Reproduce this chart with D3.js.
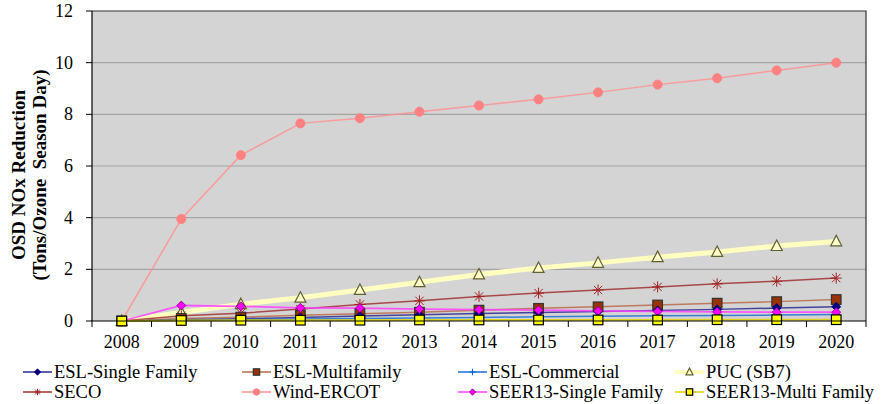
<!DOCTYPE html>
<html><head><meta charset="utf-8">
<script src="https://cdn.jsdelivr.net/npm/d3@7"></script>
</head><body style="margin:0"><svg id="c" width="881" height="404"></svg>
<script>
const FONT = "Liberation Serif";
const years = ["2008","2009","2010","2011","2012","2013","2014","2015","2016","2017","2018","2019","2020"];
const yTicks = [0,2,4,6,8,10,12];
const eslSingle   = [0,0.05,0.09,0.14,0.19,0.24,0.29,0.33,0.37,0.41,0.45,0.5,0.55];
const eslMulti    = [0,0.1,0.15,0.22,0.28,0.34,0.42,0.49,0.55,0.62,0.69,0.75,0.83];
const eslComm     = [0,0.03,0.05,0.08,0.1,0.12,0.14,0.16,0.18,0.2,0.21,0.23,0.25];
const puc         = [0,0.33,0.65,0.9,1.2,1.5,1.8,2.05,2.25,2.47,2.67,2.9,3.08];
const seco        = [0,0.2,0.3,0.46,0.64,0.78,0.95,1.08,1.2,1.32,1.44,1.54,1.66];
const wind        = [0,3.95,6.42,7.65,7.85,8.1,8.34,8.58,8.85,9.15,9.4,9.7,10.0];
const seerSingle  = [0,0.6,0.57,0.51,0.5,0.46,0.44,0.42,0.39,0.37,0.35,0.34,0.34];
const seerMulti   = [0,0.02,0.03,0.03,0.03,0.04,0.04,0.04,0.04,0.04,0.05,0.05,0.05];

const series = [
  {name:"ESL-Single Family", v:eslSingle, color:"#2a2a90", lw:1.5, m:"diamond", mf:"#000080", ms:"#000080"},
  {name:"ESL-Multifamily", v:eslMulti, color:"#b86a48", lw:1.5, m:"square", mf:"#993300", ms:"#333"},
  {name:"ESL-Commercial", v:eslComm, color:"#1a70d0", lw:1.5, m:"plus", mf:"none", ms:"#0066cc"},
  {name:"PUC (SB7)", v:puc, color:"#ffffc0", lw:5, m:"triangle", mf:"#ffffcc", ms:"#606030"},
  {name:"SECO", v:seco, color:"#a03030", lw:1.5, m:"star", mf:"none", ms:"#a02020"},
  {name:"Wind-ERCOT", v:wind, color:"#ff9090", lw:1.5, m:"circle", mf:"#ff8080", ms:"#ff8080"},
  {name:"SEER13-Single Family", v:seerSingle, color:"#ff40ff", lw:1.8, m:"diamond", mf:"#ff00ff", ms:"#800080"},
  {name:"SEER13-Multi Family", v:seerMulti, color:"#e0d000", lw:1.8, m:"square", mf:"#ffff00", ms:"#000"}
];
const drawOrder = [3,5,4,1,0,2,6,7];

const svg = d3.select("#c");
const L=92, R=866, T=11, B=321;
const x = d3.scaleBand().domain(years).range([L,R]);
const cx = d => x(d)+x.bandwidth()/2;
const y = d3.scaleLinear().domain([0,12]).range([B,T]);

svg.append("rect").attr("x",L).attr("y",T).attr("width",R-L).attr("height",B-T).attr("fill","#d4d4d4");
svg.append("g").selectAll("line").data(yTicks.filter(t=>t>0&&t<12)).join("line")
  .attr("x1",L).attr("x2",R).attr("y1",d=>y(d)).attr("y2",d=>y(d)).attr("stroke","#a4a4a4").attr("stroke-width",1.2);
svg.append("path").attr("d",`M${L},${T}H${R}V${B}`).attr("fill","none").attr("stroke","#333").attr("stroke-width",1.2);

function marker(g, type, sz, fill, stroke){
  const s=sz;
  if(type==="diamond") g.append("path").attr("d",`M0,${-s}L${s},0L0,${s}L${-s},0Z`).attr("fill",fill).attr("stroke",stroke).attr("stroke-width",0.8);
  else if(type==="square") g.append("rect").attr("x",-s).attr("y",-s).attr("width",2*s).attr("height",2*s).attr("fill",fill).attr("stroke",stroke).attr("stroke-width",1.2);
  else if(type==="triangle") g.append("path").attr("d",`M0,${-s*1.1}L${s},${s*0.8}L${-s},${s*0.8}Z`).attr("fill",fill).attr("stroke",stroke).attr("stroke-width",1.2);
  else if(type==="circle") g.append("circle").attr("r",s).attr("fill",fill).attr("stroke",stroke);
  else if(type==="plus") g.append("path").attr("d",`M${-s},0H${s}M0,${-s}V${s}`).attr("stroke",stroke).attr("stroke-width",1.2).attr("fill","none");
  else if(type==="star") g.append("path").attr("d",`M${-s},0H${s}M0,${-s}V${s}M${-s*0.75},${-s*0.75}L${s*0.75},${s*0.75}M${-s*0.75},${s*0.75}L${s*0.75},${-s*0.75}`).attr("stroke",stroke).attr("stroke-width",1).attr("fill","none");
}
const msize = {diamond:4.5, square:4.8, triangle:5.5, circle:4.5, plus:4.5, star:5.5};

const line = d3.line().x((d,i)=>cx(years[i])).y(d=>y(d));
drawOrder.forEach(k=>{
  const s=series[k];
  svg.append("path").datum(s.v).attr("d",line).attr("fill","none").attr("stroke",s.color).attr("stroke-width",s.lw).attr("stroke-opacity",s.m==="triangle"?1:0.85);
});
drawOrder.forEach(k=>{
  const s=series[k];
  s.v.forEach((v,i)=>{
    const g=svg.append("g").attr("transform",`translate(${cx(years[i])},${y(v)})`);
    marker(g,s.m,msize[s.m],s.mf,s.ms);
  });
});

// axes
svg.append("line").attr("x1",L).attr("x2",L).attr("y1",T).attr("y2",B).attr("stroke","#000").attr("stroke-width",1.2);
svg.append("line").attr("x1",L-1).attr("x2",R).attr("y1",B).attr("y2",B).attr("stroke","#000").attr("stroke-width",1.2);
svg.append("g").selectAll("line").data(yTicks).join("line")
  .attr("x1",L-6).attr("x2",L).attr("y1",d=>y(d)).attr("y2",d=>y(d)).attr("stroke","#000");
svg.append("g").selectAll("text").data(yTicks).join("text")
  .attr("font-family",FONT).style("font-family",FONT,"important")
  .attr("x",L-19).attr("y",d=>y(d)+6).attr("text-anchor","end").attr("font-size",18).text(d=>d);
const edges = years.map(d=>x(d)).concat([R]);
svg.append("g").selectAll("line").data(edges).join("line")
  .attr("x1",d=>d).attr("x2",d=>d).attr("y1",B).attr("y2",B+6).attr("stroke","#000");
svg.append("g").selectAll("text").data(years).join("text")
  .attr("font-family",FONT).style("font-family",FONT,"important")
  .attr("x",d=>cx(d)).attr("y",348).attr("text-anchor","middle").attr("font-size",18).text(d=>d);

// y title
const yt = svg.append("g").attr("transform","translate(0,175) rotate(-90)");
yt.append("text").attr("font-family",FONT).style("font-family",FONT,"important").attr("x",0).attr("y",25).attr("text-anchor","middle").attr("font-size",19).attr("font-weight","bold").text("OSD NOx Reduction");
yt.append("text").attr("font-family",FONT).style("font-family",FONT,"important").attr("x",0).attr("y",46).attr("text-anchor","middle").attr("font-size",19).attr("font-weight","bold").style("white-space","pre").text("(Tons/Ozone  Season Day)");

// legend
const colX = [23,242,458,675];
const rowY = [372,392];
series.forEach((s,i)=>{
  const c=i%4, r=Math.floor(i/4);
  const g=svg.append("g").attr("transform",`translate(${colX[c]},${rowY[r]})`);
  g.append("line").attr("x1",0).attr("x2",29).attr("y1",0).attr("y2",0).attr("stroke",s.color).attr("stroke-width",s.m==="triangle"?4:1.5);
  const mg=g.append("g").attr("transform","translate(14.5,0)");
  marker(mg,s.m,s.m==="triangle"?3.5:3.2,s.mf,s.ms);
  g.append("text").attr("font-family",FONT).style("font-family",FONT,"important").attr("x",31).attr("y",5.5).attr("font-size",18.5).text(s.name);
});
</script></body></html>
